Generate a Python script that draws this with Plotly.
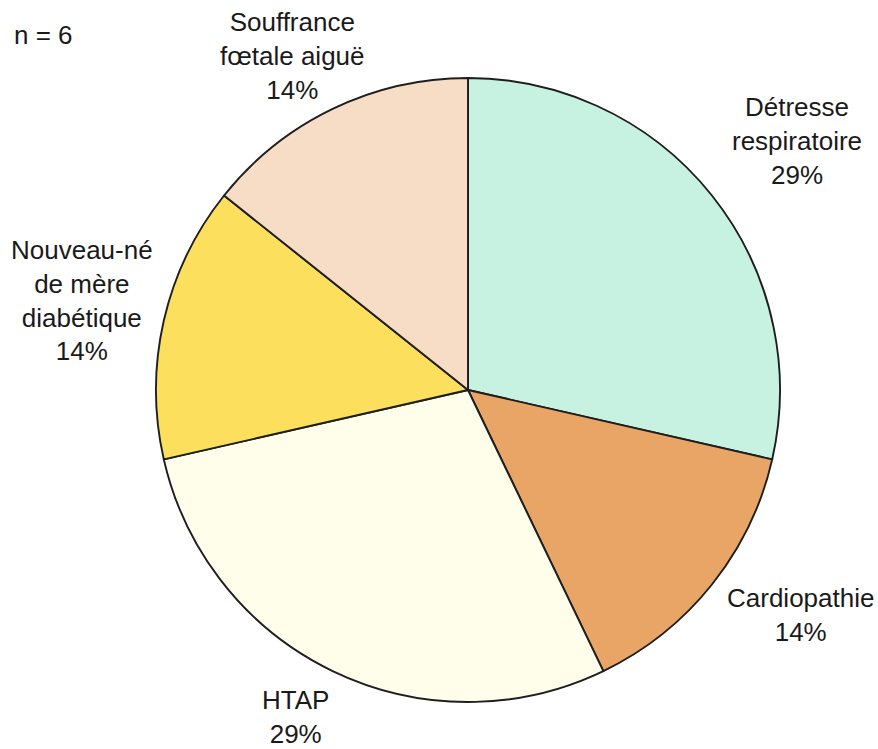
import plotly.graph_objects as go

# Diagnoses and number of cases
categories = [
    "Détresse<br>respiratoire",
    "Cardiopathie",
    "HTAP",
    "Nouveau-né<br>de mère<br>diabétique",
    "Souffrance<br>fœtale aiguë",
]
counts = [2, 1, 2, 1, 1]
n_patients = 6

colors = ["#c7f1e0", "#e9a566", "#fffeea", "#fcdf5c", "#f7dcc6"]

W, H = 878, 749
cx, cy, r = 468, 390, 312

# Label centres in pixels (x, y from top)
label_pos = [(797, 141), (800, 615), (295, 717), (82, 301), (292, 56)]

total = sum(counts)

fig = go.Figure(
    go.Pie(
        labels=categories,
        values=counts,
        sort=False,
        direction="clockwise",
        rotation=0,
        marker=dict(colors=colors, line=dict(color="#1e1e1e", width=1.9)),
        textinfo="none",
        hoverinfo="label+percent",
        showlegend=False,
        domain=dict(
            x=[(cx - r) / W, (cx + r) / W],
            y=[(H - cy - r) / H, (H - cy + r) / H],
        ),
    )
)

font = dict(family="Liberation Sans, Arial, sans-serif", size=26, color="#1a1a1a")

annotations = []
for name, v, (px, py) in zip(categories, counts, label_pos):
    pct = round(v / total * 100)
    annotations.append(
        dict(
            text=f"{name}<br>{pct}%",
            x=px / W,
            y=1 - py / H,
            xref="paper",
            yref="paper",
            xanchor="center",
            yanchor="middle",
            showarrow=False,
            font=font,
        )
    )

annotations.append(
    dict(
        text=f"n = {n_patients}",
        x=12 / W,
        y=1 - 35 / H,
        xref="paper",
        yref="paper",
        xanchor="left",
        yanchor="middle",
        showarrow=False,
        font=font,
    )
)

fig.update_layout(
    width=W,
    height=H,
    margin=dict(l=0, r=0, t=0, b=0),
    paper_bgcolor="white",
    plot_bgcolor="white",
    annotations=annotations,
)

fig.write_html("out.html")
